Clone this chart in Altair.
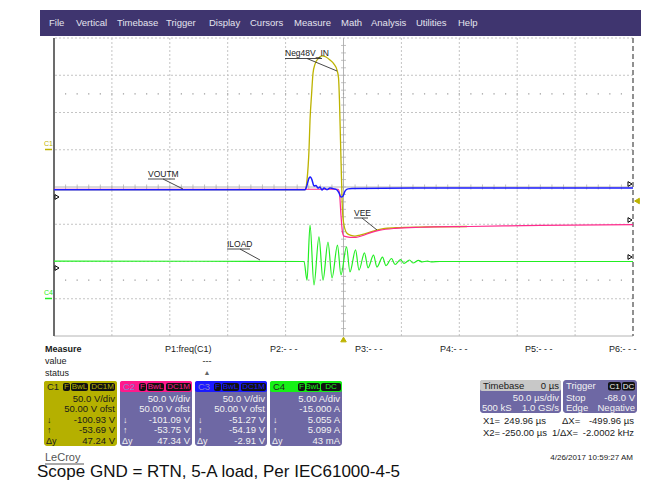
import altair as alt
import pandas as pd
import numpy as np

# ---------------- data (time in µs, amplitude in screen divisions) ----------------
t_c1 = [-250, -33.2, -31.5, -29.8, -28.9, -27.6, -26.3, -24.6, -22.0, -18.6, -15.1, -11.7, -8.2, -5.6, -4.3,
        -3.5, -2.6, -1.7, -0.9, 0.4, 3.0, 6.5, 9.9, 14.2, 20.3, 27.2, 35.8, 48.8, 74.7, 106.7]
v_c1 = [-0.07, -0.07, 0.19, 0.99, 1.80, 2.47, 3.06, 3.30, 3.44, 3.52, 3.49, 3.41, 3.30, 3.14, 2.93,
        2.34, 1.26, 0.19, -0.62, -1.02, -1.24, -1.30, -1.32, -1.29, -1.24, -1.17, -1.11, -1.09, -1.07, -1.06]

t_c2 = [-250, -4.7, -3.5, -2.2, -0.9, 0.4, 5.6, 10.8, 16.0, 22.9, 31.5, 44.5, 66.1, 109.2, 169.6, 250]
v_c2 = [-0.06, -0.06, -0.16, -0.75, -1.21, -1.32, -1.35, -1.35, -1.31, -1.23, -1.16, -1.11, -1.08, -1.06, -1.03, -1.01]

t_c3 = [-250, -33.2, -31.5, -29.8, -28.5, -27.2, -25.5, -23.7, -22.0, -20.3, -18.6, -16.8, -14.2, -11.7, -8.2,
        -5.6, -3.9, -2.2, -0.4, 1.3, 3.9, 7.3, 60, 250]
v_c3 = [-0.075, -0.075, 0.05, 0.24, 0.27, 0.19, 0.03, 0.04, -0.03, 0.0, -0.08, -0.03, -0.07, -0.03, -0.05,
        -0.08, -0.16, -0.27, -0.24, -0.11, -0.05, -0.04, -0.03, -0.03]

t_c4 = [-250, -34.1, -31.5, -28.9, -25.5, -21.2, -17.7, -13.4, -9.9, -5.2, -2.2, 2.6, 5.6, 10.4, 13.4, 18.1,
        21.2, 25.9, 28.9, 33.7, 36.7, 41.5, 44.5, 49.2, 52.2, 57.0, 60.0, 64.8, 67.8, 72.5, 75.6, 83.3, 250]
v_c4 = [-1.99, -2.00, -2.50, -1.02, -2.63, -1.34, -2.50, -1.48, -2.44, -1.56, -2.36, -1.61, -2.28, -1.69, -2.23, -1.77,
        -2.17, -1.83, -2.15, -1.88, -2.11, -1.92, -2.08, -1.95, -2.05, -1.96, -2.04, -1.97, -2.01, -1.99, -2.01, -2.00, -2.00]

grid_t = [-200, -150, -100, -50, 50, 100, 150, 200]
grid_v = [-3, -2, -1, 1, 2, 3, 4]

menu_items = ["File", "Vertical", "Timebase", "Trigger", "Display", "Cursors", "Measure", "Math",
              "Analysis", "Utilities", "Help"]
param_labels = ["P2:- - -", "P3:- - -", "P4:- - -", "P5:- - -", "P6:- - -"]
channels = ["C1", "C2", "C3", "C4"]
ch_scale = ["50.0 V/div", "50.0 V/div", "50.0 V/div", "5.00 A/div"]
ch_offset = ["50.00 V ofst", "50.00 V ofst", "50.00 V ofst", "-15.000 A"]
cur_down = ["-100.93 V", "-101.09 V", "-51.27 V", "5.055 A"]
cur_up = ["-53.69 V", "-53.75 V", "-54.19 V", "5.099 A"]
cur_dy = ["47.24 V", "47.34 V", "-2.91 V", "43 mA"]

# ---------------- styling / layout ----------------
FONT = "Liberation Sans"
YEL, PINK, BLUE, GREEN = "#bdb300", "#ff2a8c", "#1c1cff", "#22ee22"
BOXCOL = ["#b5b000", "#ff1a8c", "#1a1aff", "#16f016"]
PURPLE = "#6e68a4"
OX, OY = 54, 38          # page position of plot area's top-left
PW, PH = 579, 298

xs = alt.Scale(domain=[-250, 250], nice=False, zero=False)
ys = alt.Scale(domain=[-4, 4], nice=False, zero=False)
one = pd.DataFrame({"k": [0]})
layers = []


def T(s, px, py, size=9.0, color="#1a1a1a", align="left", weight="normal"):
    layers.append(alt.Chart(one).mark_text(text=s, align=align, baseline="middle", fontSize=size,
                                           color=color, fontWeight=weight, font=FONT)
                  .encode(x=alt.value(px - OX), y=alt.value(py - OY)))


def R(x1, y1, x2, y2, fill, r=0):
    layers.append(alt.Chart(one).mark_rect(fill=fill, cornerRadius=r)
                  .encode(x=alt.value(x1 - OX), x2=alt.value(x2 - OX),
                          y=alt.value(y1 - OY), y2=alt.value(y2 - OY)))


def L(x1, y1, x2, y2, color="#333", w=0.9):
    layers.append(alt.Chart(one).mark_rule(color=color, strokeWidth=w)
                  .encode(x=alt.value(x1 - OX), x2=alt.value(x2 - OX),
                          y=alt.value(y1 - OY), y2=alt.value(y2 - OY)))


def P(px, py, shape, size, fill, stroke, sw=1.0):
    layers.append(alt.Chart(one).mark_point(shape=shape, size=size, filled=True, fill=fill, stroke=stroke,
                                            strokeWidth=sw, opacity=1)
                  .encode(x=alt.value(px - OX), y=alt.value(py - OY)))


# ---------------- grid ----------------
layers.append(alt.Chart(pd.DataFrame({"t": grid_t})).mark_rule(color="#c4c4c4", strokeDash=[2, 2], strokeWidth=1)
              .encode(x=alt.X("t:Q", scale=xs, axis=None)))
layers.append(alt.Chart(pd.DataFrame({"v": grid_v})).mark_rule(color="#c4c4c4", strokeDash=[2, 2], strokeWidth=1)
              .encode(y=alt.Y("v:Q", scale=ys, axis=None)))
layers.append(alt.Chart(pd.DataFrame({"t": [0]})).mark_rule(color="#b4b4b4", strokeWidth=1)
              .encode(x=alt.X("t:Q", scale=xs, axis=None)))
layers.append(alt.Chart(pd.DataFrame({"v": [0, -4]})).mark_rule(color="#b4b4b4", strokeWidth=1)
              .encode(y=alt.Y("v:Q", scale=ys, axis=None)))
minor_t = np.arange(-240, 250, 10)
minor_v = np.arange(-3.8, 4.0, 0.2)
layers.append(alt.Chart(pd.DataFrame({"t": minor_t})).mark_tick(color="#a8a8a8", size=5, thickness=1, orient="vertical")
              .encode(x=alt.X("t:Q", scale=xs, axis=None), y=alt.YDatum(0, scale=ys, axis=None)))
layers.append(alt.Chart(pd.DataFrame({"v": minor_v})).mark_tick(color="#a8a8a8", size=5, thickness=1, orient="horizontal")
              .encode(y=alt.Y("v:Q", scale=ys, axis=None), x=alt.XDatum(0, scale=xs, axis=None)))
dots = pd.DataFrame({"t": np.concatenate([minor_t, minor_t]),
                     "v": [2.5] * len(minor_t) + [-2.5] * len(minor_t)})
layers.append(alt.Chart(dots).mark_square(size=1.5, color="#9a9a9a", opacity=1)
              .encode(x=alt.X("t:Q", scale=xs, axis=None), y=alt.Y("v:Q", scale=ys, axis=None)))
# frame edges
layers.append(alt.Chart(pd.DataFrame({"t": [-250]})).mark_rule(color="#6c6c6c", strokeWidth=2)
              .encode(x=alt.X("t:Q", scale=xs, axis=None)))
layers.append(alt.Chart(pd.DataFrame({"t": [250]})).mark_rule(color="#6c6c6c", strokeWidth=1.5, strokeDash=[5, 3])
              .encode(x=alt.X("t:Q", scale=xs, axis=None)))

# ---------------- traces ----------------
for tt, vv, col, w in [(t_c1, v_c1, YEL, 1.3), (t_c2, v_c2, PINK, 1.2), (t_c3, v_c3, BLUE, 1.5), (t_c4, v_c4, GREEN, 1.2)]:
    layers.append(alt.Chart(pd.DataFrame({"t": tt, "v": vv})).mark_line(color=col, strokeWidth=w, interpolate="monotone")
                  .encode(x=alt.X("t:Q", scale=xs, axis=None), y=alt.Y("v:Q", scale=ys, axis=None)))

# ---------------- trace annotations ----------------
T("Neg48V_IN", 285, 53, 8.5)
L(285, 58.5, 322, 58.5)
L(307, 58.5, 337, 71)
T("VOUTM", 148, 174, 8.5)
L(148, 179, 175, 179)
L(163, 179, 183, 189)
T("ILOAD", 227, 244, 8.5)
L(227, 249, 250, 249)
L(240, 249, 260, 260)
T("VEE", 354, 213, 8.5)
L(354, 218, 368, 218)
L(362, 218, 377, 230)

T("C1", 44, 144, 7, YEL)
L(45, 149.5, 52, 149.5, YEL, 1.5)
T("C4", 44, 292.5, 7, GREEN)
L(45, 298.5, 52, 298.5, GREEN, 1.5)

# level markers
for yy in (197, 268):
    P(57, yy, "triangle-right", 22, "#ffffff", "#000000")
for yy in (184, 220, 257):
    P(630, yy, "triangle-right", 22, "#ffffff", "#000000")
P(637, 201, "triangle-left", 30, YEL, YEL)
P(343.5, 339.5, "triangle-up", 30, YEL, YEL)

# ---------------- menu bar ----------------
R(40, 10, 641, 36, "#3f356f")
for name, px in zip(menu_items, [49, 76, 117, 166, 209, 250, 294, 341, 371, 416, 458]):
    T(name, px, 23, 9.5, "#e4e4ee")

# ---------------- measure panel ----------------
T("Measure", 45, 349, 9, weight="bold")
T("value", 45, 361, 9)
T("status", 45, 373, 9)
T("P1:freq(C1)", 165, 349, 9)
T("---", 207, 361, 9, align="center")
T("▲", 207, 373, 7, "#666", align="center")
for lab, px in zip(param_labels, [270, 355, 440, 525, 609]):
    T(lab, px, 349, 9)

# channel boxes
box_x = [(44, 117), (120, 192), (195, 267), (270, 342)]
for i, ch in enumerate(channels):
    x0, x1 = box_x[i]
    R(x0, 381, x1, 446, BOXCOL[0] if i == 0 else PURPLE, 3)
    R(x0, 381, x1, 392, BOXCOL[i], 2)
    T(ch, x0 + 3, 386.5, 9.5, "#222222" if i in (0, 3) else "#8a80d0")
    if i < 3:
        badges = [("F", x0 + 19, x0 + 26), ("BwL", x0 + 27, x0 + 44), ("DC1M", x0 + 46, x0 + 71)]
    else:
        badges = [("F", x0 + 28, x0 + 35), ("BwL", x0 + 36, x0 + 50), ("DC", x0 + 51, x0 + 71)]
    for lab, b0, b1 in badges:
        R(b0, 383, b1, 391, "#111111", 2)
        T(lab, (b0 + b1) / 2, 387, 8, BOXCOL[i], align="center")
    tc = "#1a1a1a" if i == 0 else "#f2f2f2"
    for row_txt, yy in zip([ch_scale[i], ch_offset[i], cur_down[i], cur_up[i], cur_dy[i]],
                           [398.5, 409, 419.5, 430, 440.5]):
        T(row_txt, x1 - 2, yy, 9.5, tc, align="right")
    T("↓", x0 + 3, 419.5, 9, tc)
    T("↑", x0 + 3, 430, 9, tc)
    T("Δy", x0 + 2, 440.5, 9, tc)

# timebase / trigger boxes
R(480, 380, 561, 413, PURPLE, 3)
R(480, 380, 561, 391, "#c8c8c8", 2)
T("Timebase", 483, 386, 9.5, "#1a1a1a")
T("0 µs", 559, 386, 9.5, "#1a1a1a", align="right")
T("50.0 µs/div", 559, 397.5, 9.5, "#f2f2f2", align="right")
T("500 kS", 482, 408, 9.5, "#f2f2f2")
T("1.0 GS/s", 559, 408, 9.5, "#f2f2f2", align="right")
R(563, 380, 637, 413, PURPLE, 3)
T("Trigger", 566, 386, 9.5, "#f2f2f2")
for lab, b0, b1 in [("C1", 608, 621), ("DC", 622, 635)]:
    R(b0, 382, b1, 390.5, "#111111", 2)
    T(lab, (b0 + b1) / 2, 386.5, 8, "#f2f2f2", align="center")
T("Stop", 566, 397.5, 9.5, "#f2f2f2")
T("-68.0 V", 635, 397.5, 9.5, "#f2f2f2", align="right")
T("Edge", 566, 408, 9.5, "#f2f2f2")
T("Negative", 635, 408, 9.5, "#f2f2f2", align="right")

# cursor readouts
T("X1=", 483, 421, 9.5)
T("249.96 µs", 546, 421, 9.5, align="right")
T("ΔX=", 562, 421, 9.5)
T("-499.96 µs", 634, 421, 9.5, align="right")
T("X2=", 483, 433, 9.5)
T("-250.00 µs", 547, 433, 9.5, align="right")
T("1/ΔX=", 552, 433, 9.5)
T("-2.0002 kHz", 634, 433, 9.5, align="right")

# footer
T("LeCroy", 45, 458, 11, "#555555")
L(45, 464, 84, 464, "#555555", 1)
T("4/26/2017 10:59:27 AM", 633, 458, 8, "#222222", align="right")
T("Scope GND = RTN, 5-A load, Per IEC61000-4-5", 37, 471.5, 17, "#111111")

chart = alt.layer(*layers).properties(
    width=PW, height=PH,
    padding={"left": OX - 8, "top": OY - 8, "right": 652 - (OX - 8) - PW, "bottom": 474 - (OY - 8) - PH},
    autosize=alt.AutoSizeParams(type="none"),
    background="#ffffff",
).configure_view(strokeWidth=0)

chart.save("out.html", embed_options={"renderer": "svg", "actions": False})
